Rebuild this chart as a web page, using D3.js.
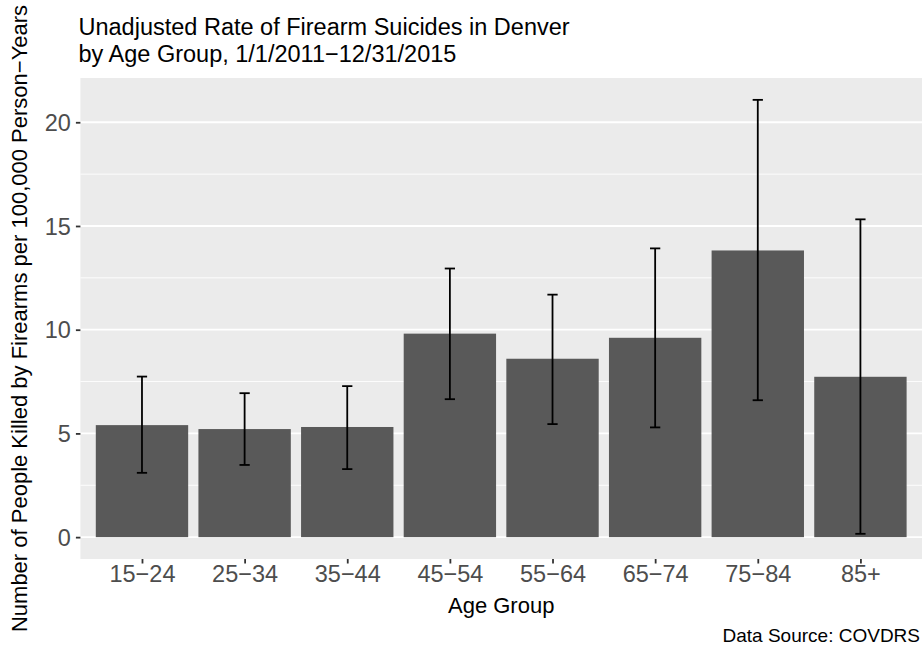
<!DOCTYPE html>
<html>
<head>
<meta charset="utf-8">
<script src="https://cdn.jsdelivr.net/npm/d3@7"></script>
<style>
  body { margin: 0; background: #ffffff; }
  svg { display: block; font-family: "Liberation Sans", Arial, sans-serif; }
</style>
</head>
<body>
<svg id="chart"></svg>
<script>
// Data
const ageGroups = ["15\u221224", "25\u221234", "35\u221244", "45\u221254", "55\u221264", "65\u221274", "75\u221284", "85+"];
const rates = [5.40, 5.21, 5.31, 9.81, 8.60, 9.61, 13.82, 7.73];
const lowerCI = [3.10, 3.48, 3.28, 6.65, 5.45, 5.29, 6.60, 0.16];
const upperCI = [7.74, 6.94, 7.28, 12.95, 11.69, 13.92, 21.08, 15.32];
const yTicks = [0, 5, 10, 15, 20];
const yMinorTicks = [2.5, 7.5, 12.5, 17.5];

let data = ageGroups.map((g, i) => ({
    group: g,
    rate: rates[i],
    lower: lowerCI[i],
    upper: upperCI[i]
}));

// Dimensions
let width = 924;
let height = 645;

let margin = {
    top: 78,
    right: 2,
    bottom: 86,
    left: 80.4
};

let svg = d3.select("#chart")
    .attr("width", width)
    .attr("height", height);

// Scales (ggplot style expansion: 0.6 units on a discrete axis, 5% on continuous)
let xScale = d3.scalePoint()
    .domain(ageGroups)
    .range([margin.left, width - margin.right])
    .padding(0.6);

let step = xScale.step();

let yMax = d3.max(upperCI);
let yScale = d3.scaleLinear()
    .domain([-0.05 * yMax, yMax * 1.05])
    .range([height - margin.bottom, margin.top]);

// Panel background
svg.append("rect")
    .attr("x", margin.left)
    .attr("y", margin.top)
    .attr("width", width - margin.right - margin.left)
    .attr("height", height - margin.bottom - margin.top)
    .attr("fill", "#ebebeb");

// Grid lines
svg.selectAll(".grid-minor")
    .data(yMinorTicks)
    .enter().append("line")
    .attr("class", "grid-minor")
    .attr("x1", margin.left)
    .attr("x2", width - margin.right)
    .attr("y1", d => yScale(d))
    .attr("y2", d => yScale(d))
    .attr("stroke", "#ffffff")
    .attr("stroke-width", 0.9);

svg.selectAll(".grid-major")
    .data(yTicks)
    .enter().append("line")
    .attr("class", "grid-major")
    .attr("x1", margin.left)
    .attr("x2", width - margin.right)
    .attr("y1", d => yScale(d))
    .attr("y2", d => yScale(d))
    .attr("stroke", "#ffffff")
    .attr("stroke-width", 1.8);

// Bars (width 0.9 of a step)
let barW = step * 0.9;
svg.selectAll(".bar")
    .data(data)
    .enter().append("rect")
    .attr("class", "bar")
    .attr("x", d => xScale(d.group) - barW / 2)
    .attr("width", barW)
    .attr("y", d => yScale(d.rate))
    .attr("height", d => yScale(0) - yScale(d.rate))
    .attr("fill", "#595959");

// Error bars (width 0.1 of a step)
let capW = step * 0.1;
let err = svg.selectAll(".err")
    .data(data)
    .enter().append("g")
    .attr("class", "err")
    .attr("stroke", "#000000")
    .attr("stroke-width", 1.8);

err.append("line")
    .attr("x1", d => xScale(d.group))
    .attr("x2", d => xScale(d.group))
    .attr("y1", d => yScale(d.lower))
    .attr("y2", d => yScale(d.upper));

err.append("line")
    .attr("x1", d => xScale(d.group) - capW / 2)
    .attr("x2", d => xScale(d.group) + capW / 2)
    .attr("y1", d => yScale(d.upper))
    .attr("y2", d => yScale(d.upper));

err.append("line")
    .attr("x1", d => xScale(d.group) - capW / 2)
    .attr("x2", d => xScale(d.group) + capW / 2)
    .attr("y1", d => yScale(d.lower))
    .attr("y2", d => yScale(d.lower));

// Axes
let xAxis = svg.append("g")
    .attr("transform", `translate(0, ${height - margin.bottom})`)
    .call(d3.axisBottom(xScale).tickSize(4.5).tickPadding(5));

let yAxis = svg.append("g")
    .attr("transform", `translate(${margin.left}, 0)`)
    .call(d3.axisLeft(yScale).tickValues(yTicks).tickSize(4.5).tickPadding(5));

[xAxis, yAxis].forEach(ax => {
    ax.select(".domain").remove();
    ax.selectAll(".tick line").attr("stroke", "#333333").attr("stroke-width", 1.8);
    ax.selectAll(".tick text")
        .attr("fill", "#4d4d4d")
        .style("font-size", "23.5px")
        .style("font-family", "'Liberation Sans', Arial, sans-serif");
});
xAxis.selectAll(".tick text").attr("dy", null).attr("y", 0).attr("transform", "translate(0, 22.5)");
yAxis.selectAll(".tick text").attr("dy", "0.35em");

// Axis titles
svg.append("text")
    .attr("x", (margin.left + width - margin.right) / 2)
    .attr("y", 612.5)
    .attr("text-anchor", "middle")
    .style("font-size", "22px")
    .text("Age Group");

svg.append("text")
    .attr("transform", "rotate(-90)")
    .attr("x", -(margin.top + height - margin.bottom) / 2)
    .attr("y", 27)
    .attr("text-anchor", "middle")
    .style("font-size", "22px")
    .text("Number of People Killed by Firearms per 100,000 Person\u2212Years");

// Title
let title = svg.append("text")
    .attr("x", 78.5)
    .attr("y", 35)
    .style("font-size", "23.5px");
title.append("tspan").attr("x", 78.5).attr("dy", 0).text("Unadjusted Rate of Firearm Suicides in Denver");
title.append("tspan").attr("x", 78.5).attr("dy", 26.5).text("by Age Group, 1/1/2011\u221212/31/2015");

// Caption
svg.append("text")
    .attr("x", width - 4)
    .attr("y", 641.5)
    .attr("text-anchor", "end")
    .style("font-size", "19px")
    .text("Data Source: COVDRS");
</script>
</body>
</html>
